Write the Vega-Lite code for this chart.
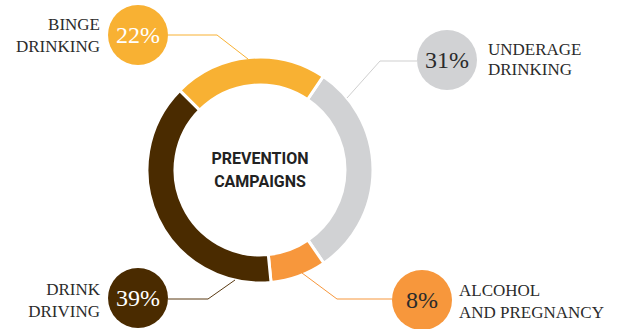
{
  "$schema": "https://vega.github.io/schema/vega-lite/v6.json",
  "width": 622,
  "height": 329,
  "padding": 0,
  "autosize": {"type": "none"},
  "background": "white",
  "config": {"view": {"stroke": null}, "axis": {"disable": true}},
  "data": {"values": [
    {"cause": "Underage drinking", "label": "UNDERAGE\nDRINKING", "share": 0.31, "seq": 1},
    {"cause": "Alcohol and pregnancy", "label": "ALCOHOL\nAND PREGNANCY", "share": 0.08, "seq": 2},
    {"cause": "Drink driving", "label": "DRINK\nDRIVING", "share": 0.39, "seq": 3},
    {"cause": "Binge drinking", "label": "BINGE\nDRINKING", "share": 0.22, "seq": 4}
  ]},
  "layer": [
    {
      "mark": {"type": "arc", "radius": 113, "radius2": 85, "stroke": "white", "strokeWidth": 3},
      "encoding": {
        "x": {"datum": 0, "type": "quantitative", "scale": {"domain": [-260, 362], "nice": false, "zero": false}, "axis": null},
        "y": {"datum": 0, "type": "quantitative", "scale": {"domain": [-159, 170], "nice": false, "zero": false}, "axis": null},
        "theta": {"field": "share", "type": "quantitative", "stack": true, "scale": {"range": [0.5934, 6.8766]}},
        "order": {"field": "seq", "type": "quantitative"},
        "color": {"field": "cause", "type": "nominal", "legend": null,
          "scale": {"domain": ["Underage drinking", "Alcohol and pregnancy", "Drink driving", "Binge drinking"],
                    "range": ["#D1D2D4", "#F7973C", "#4A2B00", "#F8B133"]}}
      }
    },
    {
      "data": {"values": [{"t": "center"}]},
      "mark": {"type": "text", "text": ["PREVENTION", "CAMPAIGNS"], "font": "Roboto", "fontWeight": "bold", "fontSize": 16, "lineHeight": 23, "align": "center", "baseline": "middle", "color": "#222222"},
      "encoding": {
        "x": {"datum": 0, "type": "quantitative", "scale": {"domain": [-260, 362], "nice": false, "zero": false}, "axis": null},
        "y": {"datum": 11, "type": "quantitative", "scale": {"domain": [-159, 170], "nice": false, "zero": false}, "axis": null}
      }
    },
    {
      "transform": [{"filter": "datum.seq == 4"}],
      "layer": [
        {"mark": {"type": "rule", "color": "#F8B133", "strokeWidth": 1},
         "encoding": {"x": {"datum": -92, "type": "quantitative"}, "x2": {"datum": -43}, "y": {"datum": 135, "type": "quantitative"}, "y2": {"datum": 135}}},
        {"mark": {"type": "rule", "color": "#F8B133", "strokeWidth": 1},
         "encoding": {"x": {"datum": -43, "type": "quantitative"}, "x2": {"datum": -12}, "y": {"datum": 135, "type": "quantitative"}, "y2": {"datum": 111}}},
        {"mark": {"type": "point", "filled": true, "opacity": 1, "size": 3600, "shape": "circle"},
         "encoding": {"x": {"datum": -122, "type": "quantitative"}, "y": {"datum": 135, "type": "quantitative"}, "color": {"field": "cause", "type": "nominal", "legend": null}}},
        {"mark": {"type": "text", "font": "Liberation Serif", "fontSize": 24, "align": "center", "baseline": "middle", "color": "white"},
         "encoding": {"x": {"datum": -122, "type": "quantitative"}, "y": {"datum": 134, "type": "quantitative"}, "text": {"field": "share", "type": "quantitative", "format": ".0%"}}},
        {"mark": {"type": "text", "font": "Liberation Serif", "fontSize": 17, "align": "right", "baseline": "middle", "lineBreak": "\n", "lineHeight": 22, "color": "#2b2b2b"},
         "encoding": {"x": {"datum": -160, "type": "quantitative"}, "y": {"datum": 145, "type": "quantitative"}, "text": {"field": "label", "type": "nominal"}}}
      ]
    },
    {
      "transform": [{"filter": "datum.seq == 1"}],
      "layer": [
        {"mark": {"type": "rule", "color": "#CFCFCF", "strokeWidth": 1},
         "encoding": {"x": {"datum": 157, "type": "quantitative"}, "x2": {"datum": 120}, "y": {"datum": 109, "type": "quantitative"}, "y2": {"datum": 109}}},
        {"mark": {"type": "rule", "color": "#CFCFCF", "strokeWidth": 1},
         "encoding": {"x": {"datum": 120, "type": "quantitative"}, "x2": {"datum": 87}, "y": {"datum": 109, "type": "quantitative"}, "y2": {"datum": 72}}},
        {"mark": {"type": "point", "filled": true, "opacity": 1, "size": 3600, "shape": "circle"},
         "encoding": {"x": {"datum": 187, "type": "quantitative"}, "y": {"datum": 110, "type": "quantitative"}, "color": {"field": "cause", "type": "nominal", "legend": null}}},
        {"mark": {"type": "text", "font": "Liberation Serif", "fontSize": 24, "align": "center", "baseline": "middle", "color": "#2b2b2b"},
         "encoding": {"x": {"datum": 187, "type": "quantitative"}, "y": {"datum": 109, "type": "quantitative"}, "text": {"field": "share", "type": "quantitative", "format": ".0%"}}},
        {"mark": {"type": "text", "font": "Liberation Serif", "fontSize": 17, "align": "left", "baseline": "middle", "lineBreak": "\n", "lineHeight": 20, "color": "#2b2b2b"},
         "encoding": {"x": {"datum": 228, "type": "quantitative"}, "y": {"datum": 120, "type": "quantitative"}, "text": {"field": "label", "type": "nominal"}}}
      ]
    },
    {
      "transform": [{"filter": "datum.seq == 3"}],
      "layer": [
        {"mark": {"type": "rule", "color": "#5A3A12", "strokeWidth": 1},
         "encoding": {"x": {"datum": -92, "type": "quantitative"}, "x2": {"datum": -52}, "y": {"datum": -129, "type": "quantitative"}, "y2": {"datum": -129}}},
        {"mark": {"type": "rule", "color": "#5A3A12", "strokeWidth": 1},
         "encoding": {"x": {"datum": -52, "type": "quantitative"}, "x2": {"datum": -25}, "y": {"datum": -129, "type": "quantitative"}, "y2": {"datum": -110}}},
        {"mark": {"type": "point", "filled": true, "opacity": 1, "size": 3600, "shape": "circle"},
         "encoding": {"x": {"datum": -122, "type": "quantitative"}, "y": {"datum": -128, "type": "quantitative"}, "color": {"field": "cause", "type": "nominal", "legend": null}}},
        {"mark": {"type": "text", "font": "Liberation Serif", "fontSize": 24, "align": "center", "baseline": "middle", "color": "white"},
         "encoding": {"x": {"datum": -122, "type": "quantitative"}, "y": {"datum": -129, "type": "quantitative"}, "text": {"field": "share", "type": "quantitative", "format": ".0%"}}},
        {"mark": {"type": "text", "font": "Liberation Serif", "fontSize": 17, "align": "right", "baseline": "middle", "lineBreak": "\n", "lineHeight": 21.5, "color": "#2b2b2b"},
         "encoding": {"x": {"datum": -160, "type": "quantitative"}, "y": {"datum": -120, "type": "quantitative"}, "text": {"field": "label", "type": "nominal"}}}
      ]
    },
    {
      "transform": [{"filter": "datum.seq == 2"}],
      "layer": [
        {"mark": {"type": "rule", "color": "#F7973C", "strokeWidth": 1},
         "encoding": {"x": {"datum": 132, "type": "quantitative"}, "x2": {"datum": 77}, "y": {"datum": -129, "type": "quantitative"}, "y2": {"datum": -129}}},
        {"mark": {"type": "rule", "color": "#F7973C", "strokeWidth": 1},
         "encoding": {"x": {"datum": 77, "type": "quantitative"}, "x2": {"datum": 42}, "y": {"datum": -129, "type": "quantitative"}, "y2": {"datum": -103}}},
        {"mark": {"type": "point", "filled": true, "opacity": 1, "size": 3600, "shape": "circle"},
         "encoding": {"x": {"datum": 162, "type": "quantitative"}, "y": {"datum": -130, "type": "quantitative"}, "color": {"field": "cause", "type": "nominal", "legend": null}}},
        {"mark": {"type": "text", "font": "Liberation Serif", "fontSize": 24, "align": "center", "baseline": "middle", "color": "#2b2b2b"},
         "encoding": {"x": {"datum": 162, "type": "quantitative"}, "y": {"datum": -131, "type": "quantitative"}, "text": {"field": "share", "type": "quantitative", "format": ".0%"}}},
        {"mark": {"type": "text", "font": "Liberation Serif", "fontSize": 17, "align": "left", "baseline": "middle", "lineBreak": "\n", "lineHeight": 21.5, "color": "#2b2b2b"},
         "encoding": {"x": {"datum": 199, "type": "quantitative"}, "y": {"datum": -121, "type": "quantitative"}, "text": {"field": "label", "type": "nominal"}}}
      ]
    }
  ]
}
